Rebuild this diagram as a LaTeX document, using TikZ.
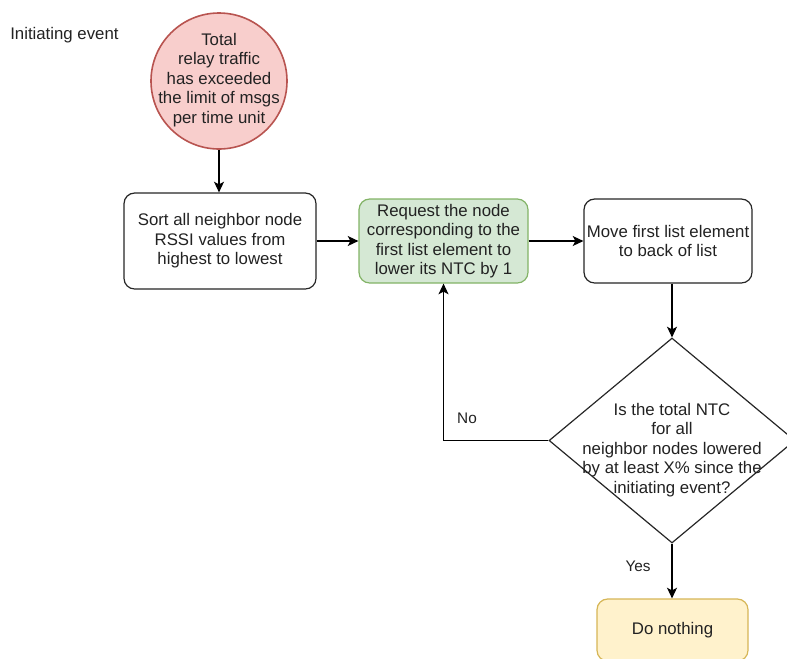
\documentclass[tikz,border=0pt]{standalone}
\usepackage{fontspec}
\setmainfont{Liberation Sans}
\usetikzlibrary{shapes.geometric,arrows.meta}
\definecolor{redfill}{HTML}{F8CECC}
\definecolor{redline}{HTML}{B85450}
\definecolor{greenfill}{HTML}{D5E8D4}
\definecolor{greenline}{HTML}{82B366}
\definecolor{yellowfill}{HTML}{FFF2CC}
\definecolor{yellowline}{HTML}{D6B656}
\definecolor{txt}{HTML}{222222}
\tikzset{
  every node/.style={font=\fontsize{12.6pt}{14.6pt}\selectfont, text=txt, align=center, inner sep=0pt},
  proc/.style={draw=black!85, line width=0.9pt, rounded corners=8pt, fill=white},
  start/.style={circle, draw=redline, fill=redfill, line width=1.2pt, minimum size=102pt},
  decision/.style={diamond, draw=black!85, line width=0.9pt, minimum width=184.5pt, minimum height=153.75pt, inner sep=0pt, fill=white},
  flow/.style={draw=black, line width=0.9pt, -{Stealth[length=8pt,width=7.5pt,inset=2pt]}},
  lbl/.style={font=\fontsize{11.5pt}{13pt}\selectfont}
}
\begin{document}
\begin{tikzpicture}[x=0.75pt, y=-0.75pt]
\useasboundingbox (0,0) rectangle (787,658);

\node[anchor=west] (initlbl) at (10,35) {Initiating event};

\node[start] (trigger) at (219,81) {};
\node (triggertext) at (219,80) {Total\\relay traffic\\has exceeded\\the limit of msgs\\per time unit};

\node[proc, minimum width=144pt, minimum height=72pt] (sort) at (220,241)
  {Sort all neighbor node\\RSSI values from\\highest to lowest};

\node[proc, draw=greenline, fill=greenfill, minimum width=126.75pt, minimum height=63pt] (request) at (443.5,241)
  {Request the node\\corresponding to the\\first list element to\\lower its NTC by 1};

\node[proc, minimum width=126pt, minimum height=63pt] (move) at (668,241)
  {Move first list element\\to back of list};

\node[decision] (check) at (672,440.5) {};
\node (checktext) at (672,450) {Is the total NTC\\for all\\neighbor nodes lowered\\by at least X\% since the\\initiating event?};

\node[proc, draw=yellowline, fill=yellowfill, minimum width=113.25pt, minimum height=46.5pt] (none) at (672.5,630)
  {Do nothing};

\draw[flow] (trigger.south) -- (trigger.south |- sort.north);
\draw[flow] (sort.east) -- (request.west);
\draw[flow] (request.east) -- (move.west);
\draw[flow] (move.south -| check.north) -- (check.north);
\draw[flow] (check.west) -| (request.south);
\draw[flow] (check.south) -- (check.south |- none.north);

\node[lbl] (nolbl) at (467,418) {No};
\node[lbl] (yeslbl) at (638,566) {Yes};
\end{tikzpicture}
\end{document}
